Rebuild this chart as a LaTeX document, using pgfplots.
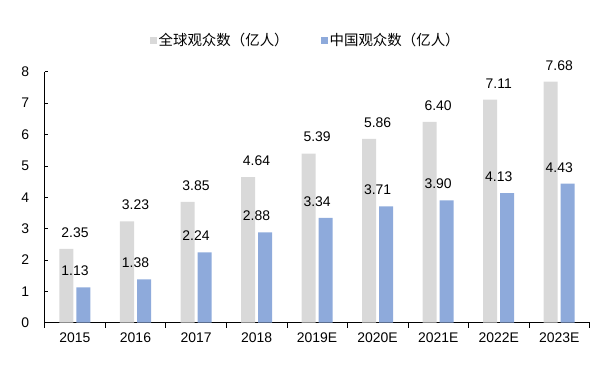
\documentclass[border=0pt]{standalone}
\usepackage{pgfplots}
\pgfplotsset{compat=1.18}
\usepackage{fontspec}
\setmainfont{Liberation Sans}
\newfontfamily\cjk{Noto Sans CJK SC}
\definecolor{graybar}{RGB}{217,217,217}
\definecolor{bluebar}{RGB}{142,170,219}
\begin{document}
\begin{tikzpicture}
\begin{axis}[
  scale only axis, width=544.8bp, height=251bp,
  xmin=-0.5, xmax=8.5, ymin=0, ymax=8,
  axis x line*=bottom, axis y line*=left,
  axis line style={black, line width=0.8bp},
  /pgf/number format/assume math mode=true,
  font=\fontsize{14}{16}\selectfont,
  xtick={0,...,8},
  xticklabels={2015,2016,2017,2018,2019E,2020E,2021E,2022E,2023E},
  major x tick style={draw=none},
  minor xtick={-0.5,0.5,...,8.5},
  xtick align=outside,
  minor tick length=5bp,
  ytick={0,...,8},
  ytick align=inside,
  major tick length=3bp,
  tick style={black, line width=0.6bp},
  yticklabel style={xshift=-12bp},
  xticklabel style={yshift=-4bp},
  nodes near coords,
  nodes near coords style={font=\fontsize{14}{16}\selectfont, yshift=8bp,
    /pgf/number format/.cd, fixed, fixed zerofill, precision=2},
  legend style={draw=none, at={(0.479,1.126)}, anchor=center,
    font=\cjk\fontsize{14.5}{17}\selectfont,
    /tikz/every even column/.append style={column sep=30bp}},
  legend columns=2,
]
\addplot[ybar, bar width=14bp, bar shift=-8.5bp, fill=graybar, draw=none,
  legend image code/.code={\fill[graybar] (0bp,-3.5bp) rectangle (7bp,3.5bp);}]
  coordinates {(0,2.35) (1,3.23) (2,3.85) (3,4.64) (4,5.39) (5,5.86) (6,6.40) (7,7.11) (8,7.68)};
\addlegendentry{全球观众数（亿人）}
\addplot[ybar, bar width=14bp, bar shift=8.5bp, fill=bluebar, draw=none,
  legend image code/.code={\fill[bluebar] (0bp,-3.5bp) rectangle (7bp,3.5bp);}]
  coordinates {(0,1.13) (1,1.38) (2,2.24) (3,2.88) (4,3.34) (5,3.71) (6,3.90) (7,4.13) (8,4.43)};
\addlegendentry{中国观众数（亿人）}
\end{axis}
\path[use as bounding box] ([shift={(-44.7bp,-44.3bp)}]current axis.south west) rectangle ([shift={(19.5bp,71.7bp)}]current axis.north east);
\end{tikzpicture}
\end{document}
